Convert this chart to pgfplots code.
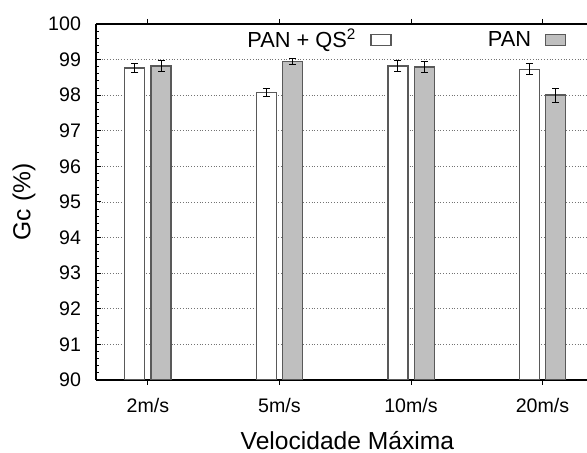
\documentclass[border=0pt]{standalone}
\usepackage{pgfplots}
\pgfplotsset{compat=1.18}
\usepackage{fontspec}
\setmainfont{Liberation Sans}
\begin{document}
\begin{tikzpicture}
\begin{axis}[
  scale only axis, width=245.5pt, height=178pt,
  xmin=-0.395, xmax=3.338, ymin=90, ymax=100,
  axis y line*=left,
  axis line style={line width=0.7pt, black},
  ytick={90,91,...,100}, minor y tick num=4,
  xtick={0,1,2,3}, xticklabels={2m/s,5m/s,10m/s,20m/s},
  major tick length=2.5pt, minor tick length=1.5pt,
  tick style={black, line width=0.5pt},
  ymajorgrids, grid style={densely dotted, black!55, line width=0.4pt},
  /pgf/number format/assume math mode=true,
  tick label style={font=\fontsize{9.8}{11}\selectfont},
  yticklabel style={xshift=-4pt},
  xticklabel style={yshift=-3pt},
  ylabel={Gc (\%)}, xlabel={Velocidade Máxima},
  label style={font=\fontsize{12.3}{14}\selectfont},
  xlabel style={at={(axis description cs:0.512,-0.1713)}, anchor=center},
  ylabel style={at={(axis description cs:-0.1466,0.5)}, anchor=center},
  ybar, bar width=10pt,
  legend columns=2, legend plot pos=right,
  legend image code/.code={\draw[#1, bar shift=0pt] (0pt,-2.75pt) rectangle (10pt,2.75pt);},
  legend style={draw=none, fill=none, inner sep=0pt, font=\fontsize{10.9}{13}\selectfont,
    at={(axis description cs:0.959,0.955)}, anchor=east,
    /tikz/every odd column/.append style={column sep=5pt},
    /tikz/every even column/.append style={column sep=46pt}},
]
\addplot[fill=white, draw=black!65, line width=0.7pt, bar shift=-6.6pt,
  error bars/.cd, y dir=both, y explicit,
  error bar style={black, line width=0.5pt},
  error mark options={rotate=90, mark size=1.75pt, black, line width=0.5pt}]
  coordinates {(0,98.76) +- (0,0.12) (1,98.07) +- (0,0.12) (2,98.82) +- (0,0.15) (3,98.73) +- (0,0.16)};
\addlegendentry{PAN + QS\textsuperscript{2}}
\addplot[fill=black!25, draw=black!65, line width=0.7pt, bar shift=6.6pt,
  error bars/.cd, y dir=both, y explicit,
  error bar style={black, line width=0.5pt},
  error mark options={rotate=90, mark size=1.75pt, black, line width=0.5pt}]
  coordinates {(0,98.82) +- (0,0.16) (1,98.94) +- (0,0.08) (2,98.79) +- (0,0.15) (3,98.00) +- (0,0.20)};
\addlegendentry{PAN}
\coordinate (ll) at (rel axis cs:0,0);
\coordinate (ur) at (rel axis cs:1,1);
\end{axis}
\pgfresetboundingbox
\path[use as bounding box] ([shift={(-48pt,-36.5pt)}]ll) rectangle ([shift={(0pt,12pt)}]ur);
\end{tikzpicture}
\end{document}
